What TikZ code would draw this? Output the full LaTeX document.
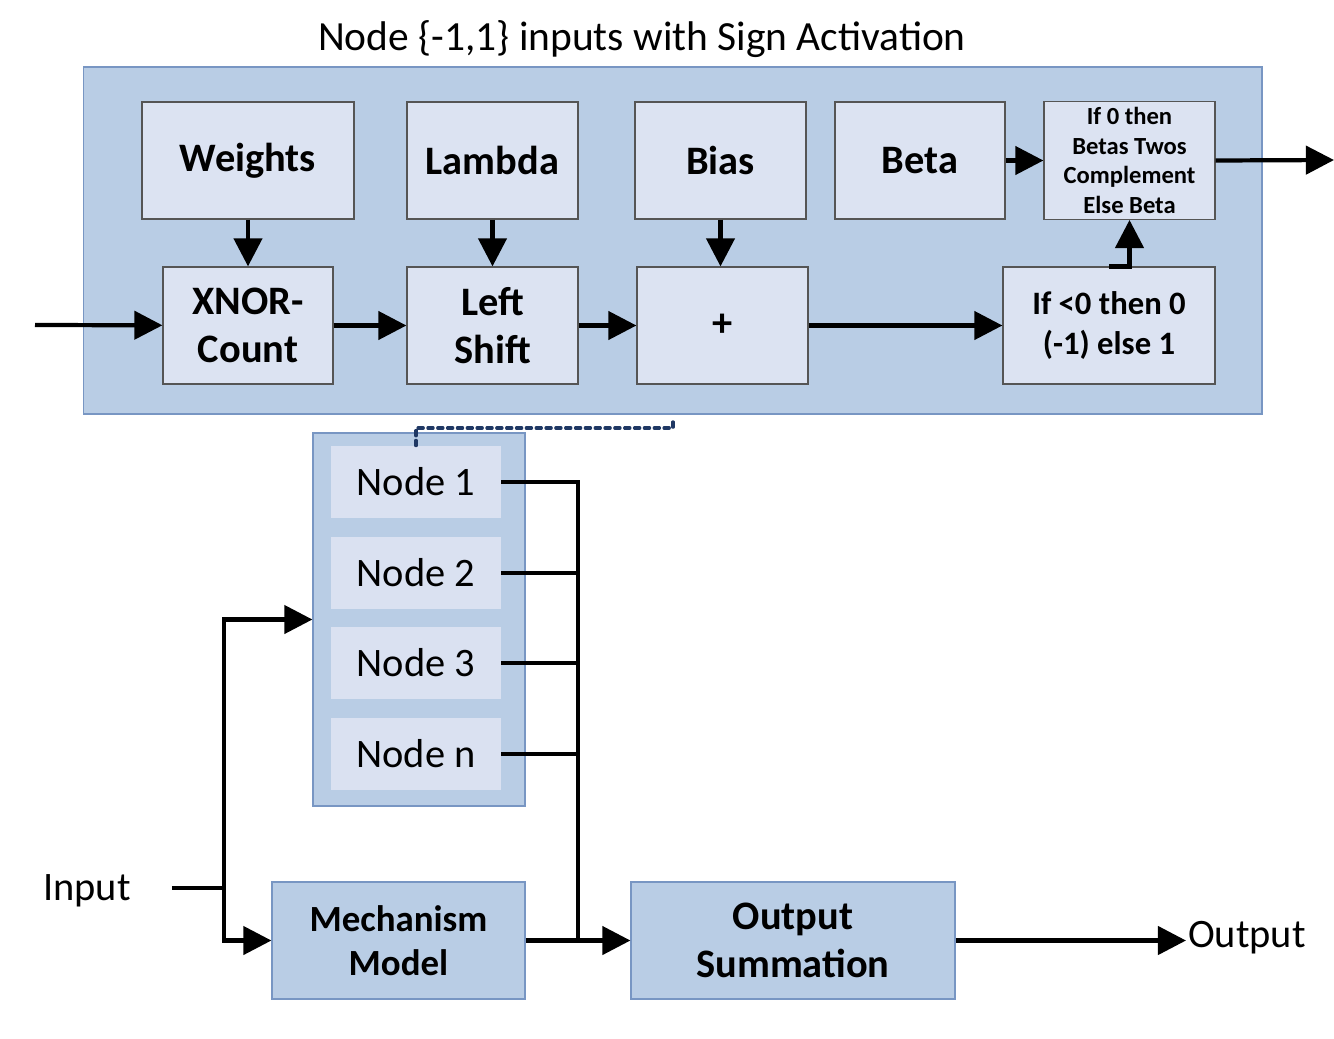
\documentclass[tikz,border=0pt]{standalone}
\usepackage{fontspec}
\setmainfont{Carlito}
\usetikzlibrary{arrows.meta, positioning, calc}
\definecolor{grpfill}{RGB}{185, 205, 229}
\definecolor{grpline}{RGB}{120, 150, 195}
\definecolor{blkfill}{RGB}{220, 227, 242}
\definecolor{blkline}{RGB}{85, 85, 85}
\definecolor{itemfill}{RGB}{218, 225, 241}
\definecolor{navy}{RGB}{31, 56, 100}
\tikzset{
    grp/.style={rectangle, draw=grpline, line width=0.7pt, fill=grpfill},
    blk/.style={rectangle, draw=blkline, line width=0.7pt, fill=blkfill, align=center, font=\fontsize{23}{27.6}\selectfont\bfseries, minimum height=2.34cm},
    item/.style={rectangle, fill=itemfill, minimum width=3.4cm, minimum height=1.44cm, font=\fontsize{23}{27.6}\selectfont},
    mainblk/.style={grp, align=center, minimum height=2.34cm, font=\fontsize{23}{27.6}\selectfont\bfseries},
    lbl/.style={font=\fontsize{23}{27.6}\selectfont, inner sep=1pt},
    line/.style={line width=2.4pt, black},
    arr/.style={line, -{Triangle[length=16pt, width=16pt]}},
    dots/.style={line width=1.8pt, navy, dash pattern=on 3pt off 2.6pt, line cap=round}
}
\begin{document}
\begin{tikzpicture}[x=0.02cm, y=-0.02cm]
        \useasboundingbox (0,0) rectangle (1334,1038);
        % node detail
        \node[font=\fontsize{23.6}{28}\selectfont] (title) at (642,39) {Node \{-1,1\} inputs with Sign Activation};
        \node[grp, minimum width=23.58cm, minimum height=6.94cm] (cell) at (672.5,240.5) {};

        \node[blk, minimum width=4.24cm] (weights) at (248,160.5) {Weights};
        \node[blk, minimum width=3.42cm] (lambda) at (492.5,160.5) {Lambda};
        \node[blk, minimum width=3.42cm] (bias) at (720.5,160.5) {Bias};
        \node[blk, minimum width=3.4cm] (beta) at (920,160.5) {Beta};
        \node[blk, minimum width=3.42cm, font=\fontsize{14}{16.8}\selectfont\bfseries] (ifzero) at (1129.5,160.5) {If 0 then\\Betas Twos\\Complement\\Else Beta};

        \node[blk, minimum width=3.4cm] (xnor) at (248,325.5) {XNOR-\\Count};
        \node[blk, minimum width=3.42cm] (shift) at (492.5,325.5) {Left\\Shift};
        \node[blk, minimum width=3.42cm] (plus) at (722.5,325.5) {+};
        \node[blk, minimum width=4.24cm, font=\fontsize{18.6}{22.3}\selectfont\bfseries] (ifless) at (1109,325.5) {If <0 then 0\\(-1) else 1};

        \coordinate (inl) at (35,325);
        \coordinate (outr) at (1334,160);

        \draw[arr] (weights) -- (xnor);
        \draw[arr] (lambda) -- (shift);
        \draw[arr] (bias.south) -- (bias.south |- plus.north);
        \draw[arr] (beta) -- (ifzero);
        \draw[arr] (inl) -- (xnor);
        \draw[arr] (xnor) -- (shift);
        \draw[arr] (shift) -- (plus);
        \draw[arr] (plus) -- (ifless);
        \draw[arr] (ifless.north) -| (ifzero.south);
        \draw[arr] (ifzero.east) -- (outr);

        % network
        \node[grp, minimum width=4.24cm, minimum height=7.46cm] (column) at (419,619.5) {};
        \node[item] (n1) at (416,482) {Node 1};
        \node[item] (n2) at (416,573) {Node 2};
        \node[item] (n3) at (416,663) {Node 3};
        \node[item] (nn) at (416,754) {Node n};

        \coordinate (zoomrow) at (673,428);
        \coordinate (zoomtick) at (673,421);
        \draw[dots] (n1.north) |- (zoomrow) -- (zoomtick);

        \node[mainblk, minimum width=5.06cm, font=\fontsize{21}{25.2}\selectfont\bfseries] (mech) at (398.5,940.5) {Mechanism\\Model};
        \node[mainblk, minimum width=6.48cm] (outsum) at (793,940.5) {Output\\Summation};
        \node[lbl] (input) at (87,891) {Input};
        \node[lbl, anchor=west] (output) at (1186,938) {Output};

        \coordinate (split) at (224,888);
        \coordinate (bus) at (578,940.5);

        \draw[line] ([xshift=0.78cm]input.east |- split) -- (split);
        \draw[arr] (split) |- (column.west);
        \draw[arr] (split) |- (mech.west);
        \draw[line] (n1.east) -| (bus);
        \draw[line] (n2.east) -- (n2.east -| bus);
        \draw[line] (n3.east) -- (n3.east -| bus);
        \draw[line] (nn.east) -- (nn.east -| bus);
        \draw[arr] (mech) -- (outsum);
        \draw[arr] (outsum.east) -- (outsum.east -| output.west);
    \end{tikzpicture}
\end{document}
